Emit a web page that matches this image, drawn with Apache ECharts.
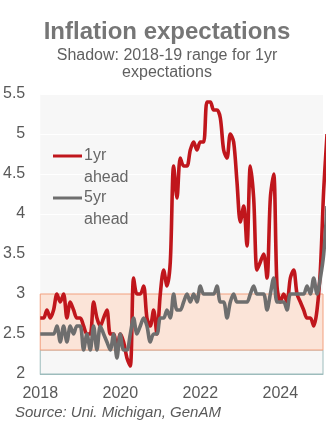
<!DOCTYPE html>
<html>
<head>
<meta charset="utf-8">
<script src="https://cdn.jsdelivr.net/npm/echarts@6/dist/echarts.min.js"></script>
<style>
  html, body { margin: 0; padding: 0; background: #ffffff; }
  #chart { width: 327px; height: 421px; }
</style>
</head>
<body>
<div id="chart"></div>
<script>
// Monthly survey readings, Jan 2018 onwards (Uni. Michigan consumer survey)
const startYear = 2018;
const oneYearAhead = [
  2.7, 2.7, 2.8, 2.7, 2.8, 3.0, 2.9, 3.0, 2.7, 2.9, 2.8, 2.7,   // 2018
  2.7, 2.6, 2.5, 2.5, 2.9, 2.7, 2.6, 2.7, 2.8, 2.5, 2.5, 2.3,   // 2019
  2.5, 2.4, 2.2, 2.1, 3.2, 3.0, 3.0, 3.1, 2.7, 2.6, 2.8, 2.5,   // 2020
  3.0, 3.3, 3.1, 3.4, 4.6, 4.2, 4.7, 4.6, 4.6, 4.8, 4.9, 4.8,   // 2021
  4.9, 4.9, 5.4, 5.4, 5.3, 5.3, 5.2, 4.8, 4.7, 5.0, 4.9, 4.4,   // 2022
  3.9, 4.1, 3.6, 4.6, 4.2, 3.3, 3.4, 3.5, 3.2, 4.2, 4.5, 3.1,   // 2023
  2.9, 3.0, 2.9, 3.2, 3.3, 3.0, 2.9, 2.8, 2.7, 2.7, 2.6, 2.8,   // 2024
  3.3, 4.3, 5.0                                                 // 2025
];
const fiveYearAhead = [
  2.5, 2.5, 2.5, 2.5, 2.5, 2.6, 2.4, 2.6, 2.4, 2.6, 2.5, 2.6,   // 2018
  2.6, 2.3, 2.5, 2.3, 2.6, 2.3, 2.6, 2.5, 2.4, 2.3, 2.5, 2.2,   // 2019
  2.5, 2.3, 2.3, 2.5, 2.7, 2.5, 2.6, 2.7, 2.6, 2.4, 2.5, 2.5,   // 2020
  2.7, 2.7, 2.8, 2.7, 3.0, 2.8, 2.8, 2.9, 3.0, 2.9, 3.0, 2.9,   // 2021
  3.1, 3.0, 3.0, 3.0, 3.0, 3.1, 2.9, 2.9, 2.7, 2.9, 3.0, 2.9,   // 2022
  2.9, 2.9, 2.9, 3.0, 3.1, 3.0, 3.0, 3.0, 2.8, 3.0, 3.2, 2.9,   // 2023
  2.9, 2.9, 2.8, 3.0, 3.0, 3.0, 3.0, 3.0, 3.1, 3.0, 3.2, 3.0,   // 2024
  3.2, 3.5, 4.1                                                 // 2025
];
const seriesNames = ['1yr ahead', '5yr ahead'];
const yearTicks = [2018, 2020, 2022, 2024];
// 2018-19 range of 1yr-ahead expectations (shaded band)
const bandRange = [2.3, 3.0];
const axisEnd = 2025.066;

// place each monthly reading on a fractional-year axis
const toPoints = vals => vals.map((v, i) => [startYear + i / 12, v]);

const FONT = '"Liberation Sans", Arial, sans-serif';
const chart = echarts.init(document.getElementById('chart'), null, { renderer: 'canvas' });

chart.setOption({
  animation: false,
  backgroundColor: '#ffffff',
  title: [
    {
      text: 'Inflation expectations',
      subtext: 'Shadow: 2018-19 range for 1yr\nexpectations',
      left: 167,
      top: 20,
      padding: 0,
      textAlign: 'center',
      itemGap: 3,
      textStyle: { fontFamily: FONT, fontSize: 24, fontWeight: 'bold', color: '#767676' },
      subtextStyle: { fontFamily: FONT, fontSize: 16, color: '#606060', lineHeight: 17 }
    },
    {
      text: 'Source: Uni. Michigan, GenAM',
      left: 15,
      top: 405,
      padding: 0,
      textStyle: { fontFamily: FONT, fontSize: 15, fontStyle: 'italic', fontWeight: 'normal', color: '#595959' }
    }
  ],
  legend: {
    orient: 'vertical',
    left: 53,
    top: 123,
    padding: 0,
    itemWidth: 29,
    itemHeight: 3,
    itemGap: -24,
    icon: 'rect',
    data: seriesNames,
    // two-line label whose first line sits level with the swatch
    formatter: name => '\n' + name.replace(' ', '\n'),
    textStyle: { fontFamily: FONT, fontSize: 16, color: '#666666', lineHeight: 22, padding: [0, 0, 0, -3] }
  },
  grid: {
    left: 40, right: 4, top: 94, bottom: 47,
    show: true, backgroundColor: '#f7f7f7', borderWidth: 0
  },
  xAxis: {
    type: 'value',
    min: startYear,
    max: axisEnd,
    interval: 2,
    axisLine: { show: true, lineStyle: { color: '#9dbcbc', width: 1 } },
    axisTick: { show: false },
    splitLine: { show: false },
    axisLabel: {
      fontFamily: FONT, fontSize: 16, color: '#595959', margin: 12,
      showMaxLabel: false,
      formatter: v => (yearTicks.includes(Math.round(v)) ? String(Math.round(v)) : '')
    }
  },
  yAxis: {
    type: 'value',
    min: 2,
    max: 5.5,
    interval: 0.5,
    axisLine: { show: false },
    axisTick: { show: false },
    splitLine: { show: true, lineStyle: { color: '#ffffff', width: 1 } },
    axisLabel: { fontFamily: FONT, fontSize: 16, color: '#595959', margin: 15 }
  },
  series: [
    {
      name: seriesNames[0],
      type: 'line',
      data: toPoints(oneYearAhead),
      showSymbol: false,
      symbol: 'none',
      smooth: 0.3,
      clip: false,
      z: 3,
      itemStyle: { color: '#c0161c' },
      lineStyle: { color: '#c0161c', width: 3.6 },
      markArea: {
        silent: true,
        data: [
          [
            { xAxis: startYear, yAxis: 2, itemStyle: { color: 'rgba(0,0,0,0)', borderColor: '#9dbcbc', borderWidth: 1 } },
            { xAxis: axisEnd, yAxis: bandRange[0] }
          ],
          [
            { xAxis: startYear, yAxis: bandRange[0], itemStyle: { color: '#fbe4d8', borderColor: '#f2a07e', borderWidth: 1 } },
            { xAxis: axisEnd, yAxis: bandRange[1] }
          ]
        ]
      }
    },
    {
      name: seriesNames[1],
      type: 'line',
      data: toPoints(fiveYearAhead),
      showSymbol: false,
      symbol: 'none',
      smooth: 0.3,
      clip: false,
      z: 4,
      itemStyle: { color: '#6e6e6e' },
      lineStyle: { color: '#6e6e6e', width: 3.6 }
    }
  ]
});
</script>
</body>
</html>
